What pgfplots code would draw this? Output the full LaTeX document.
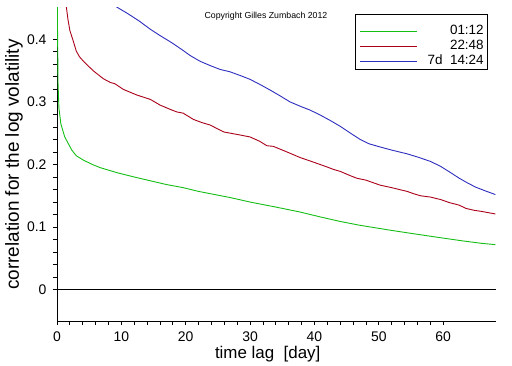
\documentclass[border=0pt]{standalone}
\usepackage{pgfplots}
\pgfplotsset{compat=1.18}
\usepackage{fontspec}
\setmainfont{Liberation Sans}
\definecolor{cgreen}{RGB}{20,190,20}
\definecolor{cred}{RGB}{170,0,25}
\definecolor{cblue}{RGB}{45,45,190}
\pgfplotsset{greenleg/.style={legend image code/.code={\draw[##1, line width=1bp] (0bp,-5bp) -- (57bp,-5bp);}}}
\begin{document}
\begin{tikzpicture}
\useasboundingbox (0,0) rectangle (512bp,366bp);
\begin{axis}[
  at={(57bp,45bp)}, anchor=south west,
  scale only axis, width=439bp, height=313bp,
  xmin=0, xmax=68.2, ymin=-0.05, ymax=0.45,
  axis lines*=left,
  axis line style={black, line width=0.9bp},
  tick align=outside,
  major tick length=4bp, minor tick length=4bp,
  tick style={black, line width=0.8bp},
  xtick={0,10,...,60}, minor x tick num=4,
  ytick={0,0.1,0.2,0.3,0.4}, minor y tick num=4,
  /pgf/number format/assume math mode=true,
  yticklabel style={/pgf/number format/fixed, /pgf/number format/precision=1, xshift=-3bp},
  xticklabel style={yshift=-3bp},
  ticklabel style={font=\fontsize{14}{14}\selectfont},
  xlabel={time lag\ \ [day]},
  ylabel={correlation for the log volatility},
  xlabel style={font=\fontsize{17}{17}\selectfont, at={(axis description cs:0.48,0)}, anchor=base, yshift=-37bp},
  ylabel style={font=\fontsize{19}{19}\selectfont, at={([xshift=-38bp]axis description cs:0,0.5)}, anchor=base},
  clip=true,
  legend cell align=right,
  legend style={at={(axis description cs:0.982,0.981)}, anchor=north east,
    draw=black, line width=0.8bp, font=\fontsize{13.5}{13.5}\selectfont,
    inner xsep=4bp, inner ysep=0.5bp,
    nodes={inner xsep=0bp, inner ysep=1bp, text height=10bp, text depth=3bp},
    /tikz/every odd column/.append style={column sep=10bp},
    row sep=0bp},
  legend image code/.code={\draw[#1, line width=1bp] (0bp,0bp) -- (57bp,0bp);},
]
\addplot[black, line width=0.9bp, forget plot] coordinates {(0,0) (68.2,0)};
\addplot[cgreen, line width=0.9bp, greenleg] coordinates {
(0.03,0.60) (0.08,0.42) (0.16,0.33) (0.3,0.29) (0.6,0.265) (1.2,0.244)
(2.3,0.223) (3.0,0.214) (4.1,0.207) (5.5,0.200) (6.7,0.195) (9.3,0.187)
(12,0.180) (14.5,0.174) (17,0.168) (19.6,0.163) (22,0.157) (24,0.153)
(27,0.147) (30,0.140) (34,0.132) (37.8,0.124) (41,0.116) (44,0.109)
(47,0.103) (51.8,0.095) (55,0.090) (59.6,0.083) (63,0.078) (66,0.074) (68.1,0.072)};
\addlegendentry[text height=19bp]{01:12}
\addplot[cred, line width=0.9bp] coordinates {
(1.35,0.46) (1.7,0.432) (2.0,0.414) (2.5,0.398) (3.0,0.381) (3.5,0.372)
(4.1,0.365) (5.6,0.350) (7.2,0.337) (8.3,0.331) (9.0,0.329) (10.3,0.320)
(12.4,0.311) (14.5,0.304) (16.0,0.295) (17.6,0.288) (18.6,0.284) (19.6,0.282)
(21.2,0.272) (22.5,0.267) (23.8,0.263) (25.9,0.252) (28.5,0.247) (30,0.244)
(31.5,0.237) (32.6,0.230) (33.6,0.229) (35.5,0.221) (37.8,0.211) (39.5,0.205)
(41.7,0.197) (43,0.192) (44,0.189) (45.6,0.182) (46.6,0.178) (48,0.175)
(50.2,0.167) (52,0.163) (54.4,0.157) (55.5,0.153) (56.5,0.150) (58,0.148)
(59.6,0.144) (61,0.139) (62.5,0.135) (63.5,0.130) (64.7,0.127) (66,0.125) (68.1,0.121)};
\addlegendentry{22:48}
\addplot[cblue, line width=0.9bp] coordinates {
(9.2,0.452) (11,0.441) (12.8,0.429) (14.5,0.416) (16,0.406) (17.6,0.396)
(19.2,0.385) (20.7,0.374) (22.2,0.365) (23.8,0.358) (25.3,0.352) (26.9,0.348)
(28.5,0.342) (30,0.336) (31.5,0.328) (33.1,0.319) (34.6,0.310) (36.2,0.300)
(37.8,0.293) (39.3,0.287) (40.9,0.279) (42.5,0.270) (44,0.261) (45.6,0.250)
(47.1,0.240) (48.5,0.233) (50.2,0.228) (52,0.223) (54.4,0.217) (56,0.212)
(58,0.205) (59.6,0.197) (61,0.188) (62.5,0.178) (63.7,0.171) (65,0.164)
(66.5,0.158) (68.1,0.152)};
\addlegendentry{7d\ \ 14:24}
\node[font=\fontsize{8.8}{9}\selectfont, anchor=center] at (axis description cs:0.476,0.974) {Copyright Gilles Zumbach 2012};
\end{axis}
\end{tikzpicture}
\end{document}
